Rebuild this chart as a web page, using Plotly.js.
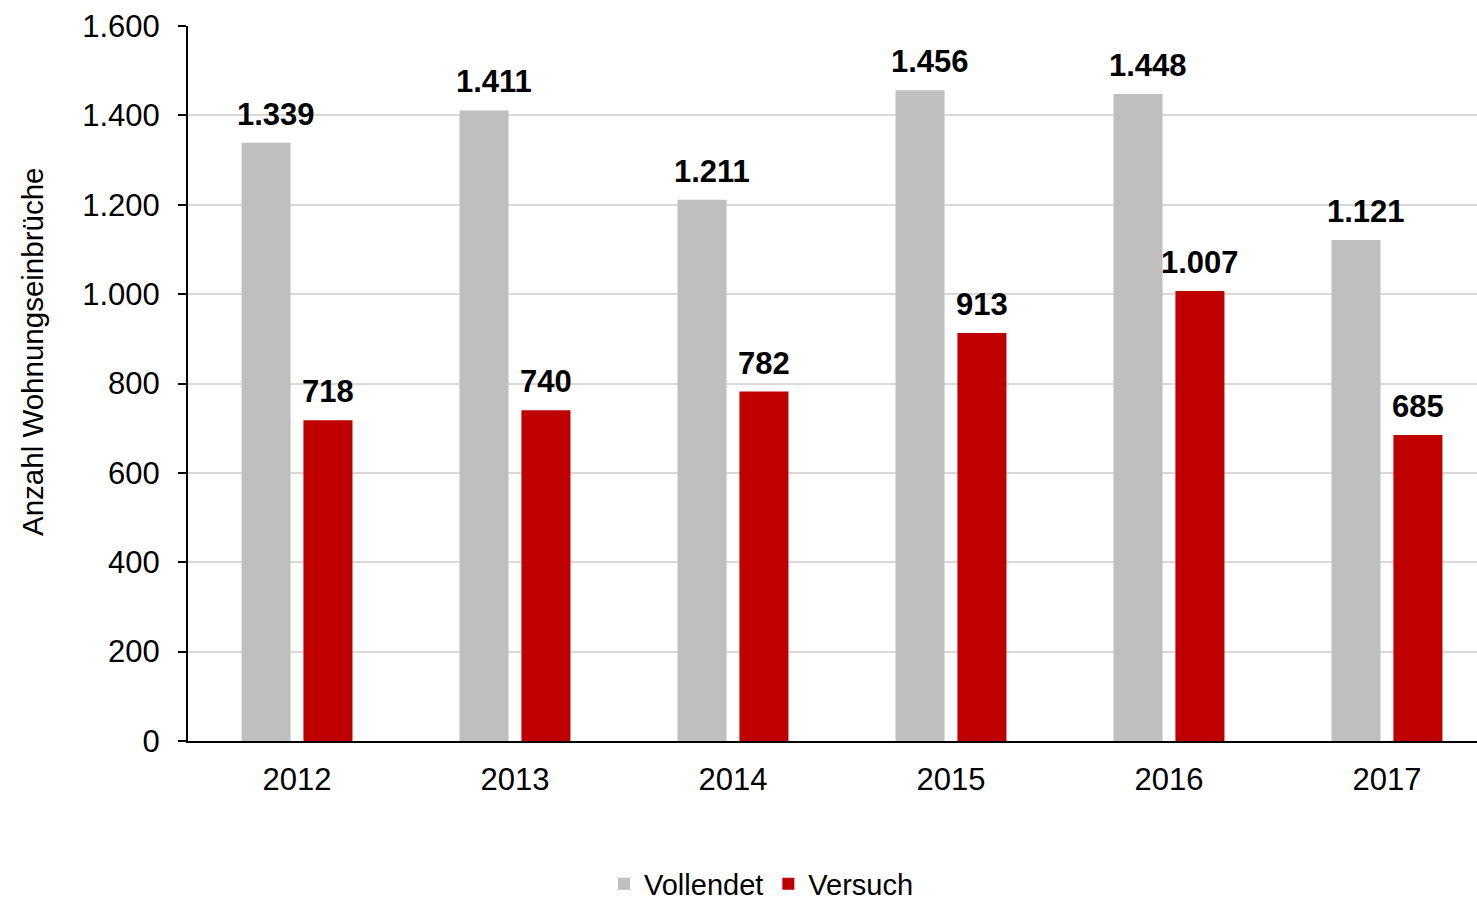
<!DOCTYPE html>
<html>
<head>
<meta charset="utf-8">
<script src="https://cdn.plot.ly/plotly-3.0.1.min.js"></script>
<style>
html,body{margin:0;padding:0;overflow:hidden;background:#fff;}
#chart{width:1477px;height:900px;}
</style>
</head>
<body>
<div id="chart"></div>
<script>
const years = ['2012','2013','2014','2015','2016','2017'];
const vollendet = [1339, 1411, 1211, 1456, 1448, 1121];
const versuch = [718, 740, 782, 913, 1007, 685];
const yTicks = [0, 200, 400, 600, 800, 1000, 1200, 1400, 1600];
const seriesNames = ['Vollendet', 'Versuch'];
const yTitle = 'Anzahl Wohnungseinbrüche';

const FONT = 'Liberation Sans, Arial, sans-serif';
const fmt = v => String(v).replace(/\B(?=(\d{3})+(?!\d))/g, '.');

const traces = [
  {type:'bar', name:seriesNames[0], x:years, y:vollendet, marker:{color:'#bfbfbf'}, hoverinfo:'skip'},
  {type:'bar', name:seriesNames[1], x:years, y:versuch, marker:{color:'#c00000'}, hoverinfo:'skip'}
];

const annotations = [];
years.forEach((yr, i) => {
  annotations.push({x:i, y:vollendet[i], xref:'x', yref:'y', text:'<b>'+fmt(vollendet[i])+'</b>',
    showarrow:false, xanchor:'center', yanchor:'bottom', xshift:-21, yshift:9,
    font:{family:FONT, size:31, color:'#000'}});
  annotations.push({x:i, y:versuch[i], xref:'x', yref:'y', text:'<b>'+fmt(versuch[i])+'</b>',
    showarrow:false, xanchor:'center', yanchor:'bottom', xshift:31, yshift:9,
    font:{family:FONT, size:31, color:'#000'}});
});
annotations.push({xref:'paper', yref:'paper', x:0, y:(741-352)/715, xshift:-156,
  text:yTitle, textangle:-90, showarrow:false, xanchor:'center', yanchor:'middle',
  font:{family:FONT, size:29.5, color:'#000'}});

const layout = {
  width:1477, height:900,
  margin:{l:188, r:0, t:26, b:159, autoexpand:false},
  paper_bgcolor:'#fff', plot_bgcolor:'#fff',
  separators:',.',
  font:{family:FONT, size:29, color:'#000'},
  barmode:'group', bargap:0.432, bargroupgap:0.208,
  showlegend:true,
  legend:{orientation:'h', x:(604-188)/1289, xanchor:'left', y:(741-884)/715, yanchor:'middle',
    font:{family:FONT, size:29, color:'#000'}, itemclick:false},
  xaxis:{type:'category', range:[-0.5, 5.413], showline:true, linecolor:'#000', linewidth:2,
    ticks:'', showgrid:false, tickfont:{family:FONT, size:31, color:'#000'}, ticklabelstandoff:10, fixedrange:true},
  yaxis:{range:[0,1600], tickvals:yTicks, ticktext:yTicks.map(fmt), showline:true, linecolor:'#000', linewidth:2,
    ticks:'outside', ticklen:8, tickwidth:2, tickcolor:'#000', showgrid:true, gridcolor:'#d9d9d9', gridwidth:2,
    zeroline:false, tickfont:{family:FONT, size:31, color:'#000'}, ticklabelstandoff:12, fixedrange:true},
  annotations:annotations
};

Plotly.newPlot('chart', traces, layout, {displayModeBar:false, staticPlot:true});
</script>
</body>
</html>
